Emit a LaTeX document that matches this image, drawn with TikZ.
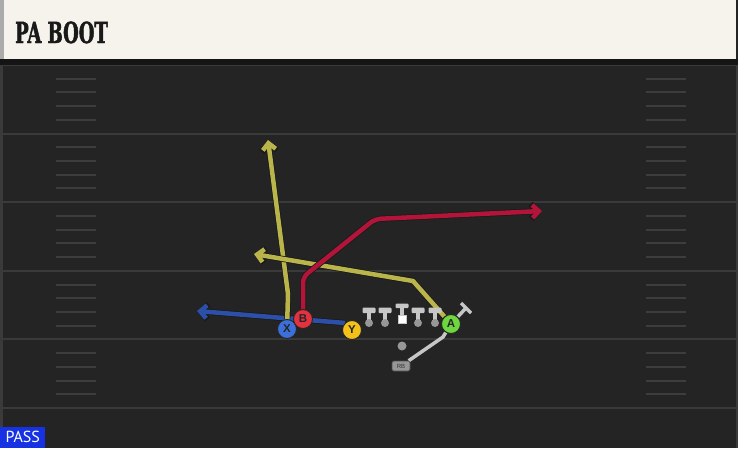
\documentclass[tikz,border=0pt]{standalone}
\usepackage{fontspec}
\usetikzlibrary{arrows.meta,calc}
\setsansfont{Liberation Sans}
\newfontfamily\titlefont{DejaVu Serif}[FakeStretch=0.62, FakeBold=1.5]
\newfontfamily\tagfont{PT Sans}

\definecolor{fieldbg}{HTML}{242424}
\definecolor{yardline}{HTML}{3A3A3A}
\definecolor{hashline}{HTML}{3D3D3D}
\definecolor{headcream}{HTML}{F5F3EC}
\definecolor{headedge}{HTML}{ABABAB}
\definecolor{headshadow}{HTML}{151515}
\definecolor{routeolive}{HTML}{B9B54B}
\definecolor{routered}{HTML}{B3143A}
\definecolor{routeblue}{HTML}{2C50A8}
\definecolor{xblue}{HTML}{3B6FD9}
\definecolor{bred}{HTML}{E2323F}
\definecolor{yyellow}{HTML}{F2C21B}
\definecolor{agreen}{HTML}{6ED63F}
\definecolor{linegray}{HTML}{C6C6C6}
\definecolor{dotgray}{HTML}{979797}
\definecolor{passblue}{HTML}{1632E2}

\pgfdeclarelayer{field}
\pgfdeclarelayer{routes}
\pgfsetlayers{field,routes,main}

\tikzset{
  player/.style={circle, draw=black!85, line width=0.9pt, minimum size=19pt,
    inner sep=0pt, text=black!85, font=\sffamily\bfseries\fontsize{11.5}{11.5}\selectfont},
  route/.style={line width=4.5pt, -{Straight Barb[length=6.5pt,width=13pt]},
    preaction={draw=black!90, line width=6pt, -{Straight Barb[length=7pt,width=15pt]}}},
  block/.style={line width=3.5pt, draw=linegray},
  lineman/.pic={
    \fill[linegray, rounded corners=1pt] (-6.5,-15.5) rectangle (6.5,-10);
    \fill[linegray] (-2.2,-11) rectangle (2.2,-2);
    \fill[dotgray] (0,0) circle (4);
  },
  centerman/.pic={
    \fill[linegray, rounded corners=1pt] (-6.5,-16) rectangle (6.5,-11.5);
    \fill[linegray] (-2.2,-12) rectangle (2.2,-4);
    \filldraw[fill=white, draw=linegray, line width=1pt] (-4,-4) rectangle (4,4);
  }
}

\begin{document}
\begin{tikzpicture}[x=1pt, y=-1pt]
  \useasboundingbox (0,0) rectangle (738,448);

  \begin{pgfonlayer}{field}
    % field and header
    \fill[fieldbg] (0,0) rectangle (738,448);
    \fill[yardline] (0,59) rectangle (3,448);
    \fill[yardline] (736,59) rectangle (738,448);
    \foreach \i in {0,...,5}
      \draw[yardline, line width=2pt] (0,65+68.6*\i) -- (738,65+68.6*\i);
    \foreach \i in {0,...,4}
      \foreach \k in {1,...,4} {
        \draw[hashline, line width=2pt] (56,65+68.6*\i+13.72*\k) -- (96,65+68.6*\i+13.72*\k);
        \draw[hashline, line width=2pt] (646,65+68.6*\i+13.72*\k) -- (686,65+68.6*\i+13.72*\k);
      }
    \fill[headshadow] (0,59) rectangle (738,65);
    \fill[headedge] (0,0) rectangle (4,59);
    \fill[headcream] (4,0) rectangle (736,59);
  \end{pgfonlayer}

  \node[anchor=base west, inner sep=0pt, text=black!90,
    font=\titlefont\bfseries\fontsize{29}{29}\selectfont] (title) at (15,43) {PA BOOT};
  \node[anchor=south west, fill=passblue, text=white, minimum width=45pt,
    minimum height=21pt, inner sep=0pt,
    font=\tagfont\fontsize{16}{16}\selectfont] (pass) at (0,448) {PASS};

  % offense
  \node[player, fill=xblue] (X) at (287,329) {X};
  \node[player, fill=bred] (B) at (303,319) {B};
  \node[player, fill=yyellow] (Y) at (352,330) {Y};
  \node[player, fill=agreen] (A) at (451,324) {A};
  \node[circle, fill=dotgray, inner sep=0pt, minimum size=9pt] (QB) at (402,346) {};
  \node[rounded corners=2pt, fill=dotgray, draw=black!70, line width=0.6pt,
    minimum width=18pt, minimum height=10pt, inner sep=0pt, text=black!80,
    font=\sffamily\fontsize{6}{6}\selectfont] (RB) at (401,366) {RB};
  \foreach \x in {369,385,418,435}
    \pic at (\x,323) {lineman};
  \pic at (402,319.5) {centerman};

  \coordinate (xturn) at (288,294);
  \coordinate (xend) at (268,140);
  \coordinate (xleft) at (197,311);
  \coordinate (bturn) at (303,277);
  \coordinate (bcut) at (375,219);
  \coordinate (bend) at (542,211);
  \coordinate (aturn) at (413,281);
  \coordinate (aend) at (254,254);
  \coordinate (ablk) at (466,308);
  \coordinate (rbturn) at (443,337);

  \begin{pgfonlayer}{routes}
    \draw[route, routeblue] (Y.north west) -- (xleft);
    \draw[route, routeolive] (X) -- (xturn) -- (xend);
    \draw[route, routeolive] (A) -- (aturn) -- (aend);
    \draw[route, routered, rounded corners=6pt] (B) -- (bturn) -- (bcut) -- (bend);
    \draw[block] (RB) -- (rbturn) -- (A);
    \draw[block] (A) -- (ablk);
    \draw[block] ($(ablk)+(-5,-5)$) -- ($(ablk)+(5,5)$);
  \end{pgfonlayer}
\end{tikzpicture}
\end{document}
